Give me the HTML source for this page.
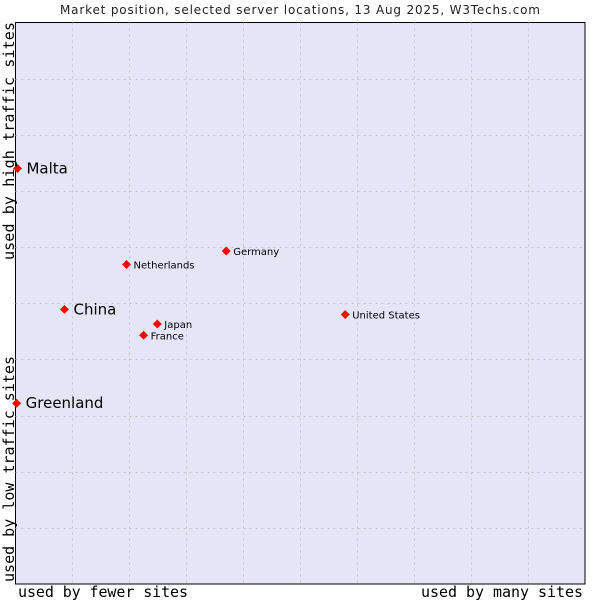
<!DOCTYPE html>
<html><head><meta charset="utf-8"><style>
body{margin:0;background:#fff;width:600px;height:600px;overflow:hidden}
svg{display:block}
</style></head><body>
<svg id="chart" width="600" height="600" xmlns="http://www.w3.org/2000/svg">
<text x="300" y="14" text-anchor="middle" font-family="DejaVu Sans, sans-serif" font-size="12" fill="#222" textLength="480">Market position, selected server locations, 13 Aug 2025, W3Techs.com</text>
<rect x="15.5" y="22.5" width="569.5" height="561.5" fill="#e4e6f8" stroke="#000" stroke-width="1"/>
<g id="grid"></g>
<g id="points"></g>
<text x="18" y="597" font-family="DejaVu Sans Mono, monospace" font-size="15" fill="#000" textLength="170">used by fewer sites</text>
<text x="421" y="597" font-family="DejaVu Sans Mono, monospace" font-size="15" fill="#000" textLength="162">used by many sites</text>
<text transform="translate(14,582) rotate(-90)" font-family="DejaVu Sans Mono, monospace" font-size="15" fill="#000" textLength="226">used by low traffic sites</text>
<text transform="translate(14,260) rotate(-90)" font-family="DejaVu Sans Mono, monospace" font-size="15" fill="#000" textLength="238">used by high traffic sites</text>
</svg>
<script>
const names = ["Malta","China","Greenland","Netherlands","Germany","Japan","France","United States"];
const xValues = [0.35,8.6,0.2,19.5,37.0,24.9,22.5,57.9];
const yValues = [74.0,48.9,32.2,56.9,59.3,46.3,44.3,48.0];
const bigLabel = [true,true,true,false,false,false,false,false];
const NS="http://www.w3.org/2000/svg";
const L=15.5,R=585,T=22.5,B=584;
const sx=v=>L+(R-L)*v/100, sy=v=>B-(B-T)*v/100;
const grid=document.getElementById('grid');
for(let i=1;i<10;i++){
  const v=document.createElementNS(NS,'line');
  
  
  v.setAttribute('x1',Math.round(sx(i*10))+0.5);v.setAttribute('x2',Math.round(sx(i*10))+0.5);v.setAttribute('y1',T);v.setAttribute('y2',B);
  v.setAttribute('stroke','#c4c4c4');v.setAttribute('stroke-dasharray','2,4');grid.appendChild(v);
  const h=document.createElementNS(NS,'line');
  
  
  h.setAttribute('y1',Math.round(sy(i*10))+0.5);h.setAttribute('y2',Math.round(sy(i*10))+0.5);h.setAttribute('x1',L);h.setAttribute('x2',R);
  h.setAttribute('stroke','#c4c4c4');h.setAttribute('stroke-dasharray','2,4');grid.appendChild(h);
}
const pts=document.getElementById('points');
names.forEach((n,i)=>{
  const x=sx(xValues[i]),y=sy(yValues[i]);
  const m=document.createElementNS(NS,'path');
  
  
  m.setAttribute('d',`M${x} ${y-4.5}L${x+4.5} ${y}L${x} ${y+4.5}L${x-4.5} ${y}Z`);
  m.setAttribute('fill','#f00');pts.appendChild(m);
  const t=document.createElementNS(NS,'text');
  
  
  const big=bigLabel[i];
  t.setAttribute('x',x+(big?9:7));t.setAttribute('y',y+(big?5:4));
  t.setAttribute('font-family','DejaVu Sans, sans-serif');
  t.setAttribute('font-size',big?15:10);t.setAttribute('fill','#000');
  t.textContent=n;pts.appendChild(t);
});
</script>
</body></html>
